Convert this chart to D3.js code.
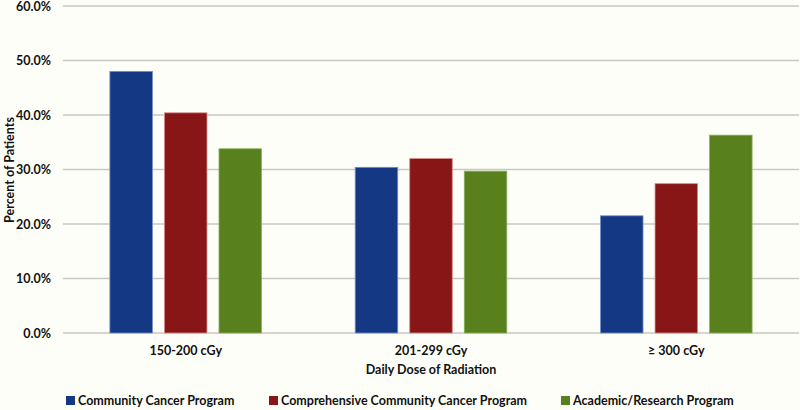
<!DOCTYPE html>
<html><head><meta charset="utf-8">
<script src="https://cdn.jsdelivr.net/npm/d3@7"></script>
<style>
html,body{margin:0;padding:0;background:#FEFEF8;}
text{font-family:Lato,"Open Sans",sans-serif;fill:#111;}
</style></head>
<body><svg id="c" width="800" height="410"></svg>
<script>
const categories = ["150-200 cGy", "201-299 cGy", "\u2265 300 cGy"];
const seriesNames = ["Community Cancer Program", "Comprehensive Community Cancer Program", "Academic/Research Program"];
const community = [48.0, 30.4, 21.5];
const comprehensive = [40.4, 32.0, 27.4];
const academic = [33.8, 29.7, 36.3];
const yTicks = [0, 10, 20, 30, 40, 50, 60];
const colors = ["#143883", "#881616", "#58801C"];
const strokes = ["#6f8fcf", "#d88a8a", "#8fb060"];

const series = [community, comprehensive, academic];
const svg = d3.select("#c");
const mLeft = 63, mRight = 799, mTop = 6, mBottom = 333;

const y = d3.scaleLinear().domain([0, 60]).range([mBottom, mTop]);
const x0 = d3.scaleBand().domain(categories).range([mLeft, mRight]).paddingInner(0.333).paddingOuter(0.1667);
const x1 = d3.scaleBand().domain(d3.range(3)).range([0, x0.bandwidth()]).paddingInner(0.22).paddingOuter(0.11);

// gridlines
svg.append("g").selectAll("line").data(yTicks).join("line")
  .attr("x1", mLeft).attr("x2", mRight)
  .attr("y1", d => y(d)).attr("y2", d => y(d))
  .attr("stroke", "#c9c9c4").attr("stroke-width", 1.5);

// y axis labels
const yAxis = d3.axisLeft(y).tickValues(yTicks).tickFormat(d => d.toFixed(1) + "%").tickSize(0).tickPadding(12);
const ga = svg.append("g").attr("transform", `translate(${mLeft},0)`).call(yAxis);
ga.select(".domain").remove();
ga.selectAll("text").style("font-family", "Lato, sans-serif").style("font-size", "12.5px").style("font-weight", "bold").attr("fill", "#111");

// bars
categories.forEach((c, ci) => {
  series.forEach((s, si) => {
    svg.append("rect")
      .attr("x", x0(c) + x1(si)).attr("width", x1.bandwidth())
      .attr("y", y(s[ci])).attr("height", y(0) - y(s[ci]))
      .attr("fill", colors[si]).attr("stroke", strokes[si]).attr("stroke-width", 0.8);
  });
});

// x axis
const xAxis = d3.axisBottom(x0).tickSize(0).tickPadding(13);
const gx = svg.append("g").attr("transform", `translate(0,${mBottom})`).call(xAxis);
gx.select(".domain").remove();
gx.selectAll("text").style("font-family", "Lato, sans-serif").style("font-size", "12.5px").style("font-weight", "bold").attr("fill", "#111");

// axis titles
svg.append("text").attr("x", 431).attr("y", 374).attr("text-anchor", "middle")
  .style("font-size", "12.5px").style("font-weight", "bold").text("Daily Dose of Radiation");
svg.append("text").attr("transform", "translate(14,170) rotate(-90)").attr("text-anchor", "middle")
  .style("font-size", "12.5px").style("font-weight", "bold").text("Percent of Patients");

// legend
const legX = [66, 269, 561];
seriesNames.forEach((n, i) => {
  svg.append("rect").attr("x", legX[i]).attr("y", 396).attr("width", 9).attr("height", 9).attr("fill", colors[i]);
  svg.append("text").attr("x", legX[i] + 12).attr("y", 405).style("font-size", "12.5px").style("font-weight", "bold").text(n);
});
</script></body></html>
